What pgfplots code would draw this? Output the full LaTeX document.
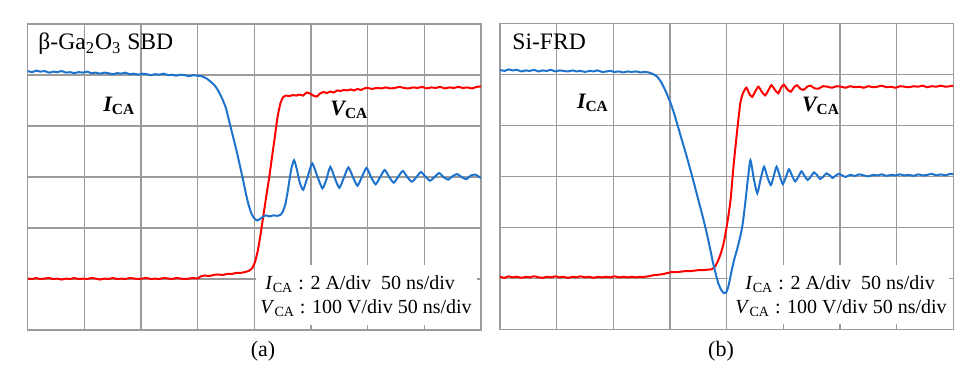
\documentclass[border=0pt]{standalone}
\usepackage{fontspec}
\setmainfont{Liberation Serif}
\usepackage{pgfplots}
\usepackage{pgfplotstable}
\pgfplotsset{compat=1.18}
\definecolor{gridc}{RGB}{155,155,155}
\definecolor{tblue}{RGB}{30,115,205}
\definecolor{tred}{RGB}{255,0,0}

\pgfplotstableread[row sep=\\]{x y\\
0.00 5.08\\ 0.08 5.06\\ 0.15 5.09\\ 0.22 5.07\\ 0.30 5.08\\ 0.38 5.05\\ 0.45 5.07\\ 0.52 5.06\\ 0.60 5.08\\ 0.68 5.05\\
0.75 5.06\\ 0.82 5.04\\ 0.90 5.06\\ 0.98 5.05\\ 1.05 5.07\\ 1.12 5.04\\ 1.20 5.05\\ 1.28 5.03\\ 1.35 5.05\\ 1.42 5.04\\
1.50 5.02\\ 1.58 5.04\\ 1.65 5.03\\ 1.72 5.05\\ 1.80 5.02\\ 1.88 5.03\\ 1.95 5.01\\ 2.02 5.03\\ 2.10 5.02\\ 2.18 5.00\\
2.25 5.02\\ 2.32 5.01\\ 2.40 5.03\\ 2.48 5.00\\ 2.55 5.01\\ 2.62 4.99\\ 2.70 5.01\\ 2.78 5.00\\ 2.85 4.98\\ 2.92 5.00\\
3.00 4.99\\ 3.07 4.98\\ 3.15 4.94\\ 3.22 4.88\\ 3.30 4.80\\ 3.37 4.68\\ 3.44 4.52\\ 3.50 4.35\\ 3.55 4.12\\ 3.60 3.90\\
3.65 3.68\\ 3.70 3.45\\ 3.75 3.20\\ 3.80 2.95\\ 3.85 2.68\\ 3.90 2.45\\ 3.95 2.28\\ 4.00 2.19\\ 4.05 2.15\\ 4.10 2.18\\
4.15 2.22\\ 4.20 2.25\\ 4.27 2.23\\ 4.34 2.25\\ 4.40 2.24\\ 4.46 2.26\\ 4.50 2.32\\ 4.55 2.48\\ 4.60 2.80\\ 4.65 3.15\\
4.70 3.33\\ 4.75 3.15\\ 4.80 2.90\\ 4.86 2.75\\ 4.93 2.97\\ 5.02 3.27\\ 5.10 3.05\\ 5.20 2.78\\ 5.27 2.95\\ 5.34 3.20\\
5.42 2.98\\ 5.50 2.79\\ 5.58 2.99\\ 5.66 3.19\\ 5.74 3.00\\ 5.82 2.83\\ 5.90 3.01\\ 5.98 3.18\\ 6.06 3.00\\ 6.14 2.86\\
6.22 3.00\\ 6.30 3.14\\ 6.38 3.00\\ 6.46 2.89\\ 6.54 3.01\\ 6.62 3.12\\ 6.70 3.00\\ 6.78 2.91\\ 6.86 3.00\\ 6.94 3.10\\
7.02 3.01\\ 7.10 2.93\\ 7.18 3.00\\ 7.26 3.08\\ 7.34 3.00\\ 7.42 2.95\\ 7.50 3.02\\ 7.58 3.06\\ 7.66 3.00\\ 7.74 2.96\\
7.82 3.03\\ 7.90 3.05\\ 8.00 2.98\\
}\IaTable

\pgfplotstableread[row sep=\\]{x y\\
0.00 1.01\\ 0.08 1.00\\ 0.15 1.02\\ 0.22 1.00\\ 0.30 1.01\\ 0.38 1.02\\ 0.45 1.00\\ 0.52 1.01\\ 0.60 0.99\\ 0.68 1.01\\
0.75 1.00\\ 0.82 1.02\\ 0.90 1.00\\ 0.98 1.01\\ 1.05 1.00\\ 1.12 1.02\\ 1.20 1.01\\ 1.28 0.99\\ 1.35 1.01\\ 1.42 1.00\\
1.50 1.02\\ 1.58 1.00\\ 1.65 1.01\\ 1.72 1.00\\ 1.80 1.02\\ 1.88 1.01\\ 1.95 1.00\\ 2.02 1.01\\ 2.10 1.02\\ 2.18 1.00\\
2.25 1.01\\ 2.32 1.00\\ 2.40 1.02\\ 2.48 1.01\\ 2.55 1.00\\ 2.62 1.02\\ 2.70 1.01\\ 2.78 1.00\\ 2.85 1.01\\ 2.92 1.02\\
3.00 1.01\\ 3.05 1.05\\ 3.12 1.07\\ 3.20 1.06\\ 3.28 1.08\\ 3.36 1.09\\ 3.44 1.08\\ 3.52 1.10\\ 3.60 1.10\\ 3.68 1.12\\
3.76 1.12\\ 3.84 1.14\\ 3.90 1.16\\ 3.96 1.21\\ 4.01 1.33\\ 4.06 1.55\\ 4.11 1.88\\ 4.16 2.25\\ 4.21 2.62\\ 4.26 2.98\\
4.31 3.38\\ 4.36 3.78\\ 4.41 4.18\\ 4.46 4.45\\ 4.51 4.57\\ 4.56 4.60\\ 4.62 4.59\\ 4.68 4.61\\ 4.74 4.60\\ 4.80 4.62\\
4.86 4.60\\ 4.92 4.66\\ 4.98 4.64\\ 5.04 4.60\\ 5.10 4.58\\ 5.16 4.64\\ 5.22 4.67\\ 5.28 4.65\\ 5.34 4.68\\ 5.40 4.66\\
5.46 4.70\\ 5.52 4.69\\ 5.58 4.71\\ 5.64 4.70\\ 5.70 4.72\\ 5.76 4.70\\ 5.82 4.73\\ 5.88 4.71\\ 5.94 4.74\\ 6.00 4.75\\
6.08 4.73\\ 6.16 4.75\\ 6.24 4.74\\ 6.32 4.76\\ 6.40 4.74\\ 6.48 4.75\\ 6.56 4.77\\ 6.64 4.75\\ 6.72 4.74\\ 6.80 4.76\\
6.88 4.75\\ 6.96 4.77\\ 7.04 4.74\\ 7.12 4.76\\ 7.20 4.75\\ 7.28 4.77\\ 7.36 4.74\\ 7.44 4.76\\ 7.52 4.75\\ 7.60 4.77\\
7.68 4.75\\ 7.76 4.76\\ 7.84 4.74\\ 7.92 4.77\\ 8.00 4.78\\
}\VaTable

\pgfplotstableread[row sep=\\]{x y\\
0.00 5.09\\ 0.08 5.07\\ 0.15 5.10\\ 0.22 5.08\\ 0.30 5.09\\ 0.38 5.06\\ 0.45 5.08\\ 0.52 5.07\\ 0.60 5.09\\ 0.68 5.06\\
0.75 5.08\\ 0.82 5.07\\ 0.90 5.09\\ 0.98 5.06\\ 1.05 5.08\\ 1.12 5.07\\ 1.20 5.06\\ 1.28 5.08\\ 1.35 5.06\\ 1.42 5.07\\
1.50 5.05\\ 1.58 5.07\\ 1.65 5.06\\ 1.72 5.08\\ 1.80 5.05\\ 1.88 5.06\\ 1.95 5.07\\ 2.02 5.05\\ 2.10 5.06\\ 2.18 5.04\\
2.25 5.06\\ 2.32 5.05\\ 2.40 5.06\\ 2.48 5.04\\ 2.55 5.05\\ 2.62 5.04\\ 2.70 5.01\\ 2.78 4.95\\ 2.86 4.82\\ 2.94 4.63\\
3.00 4.47\\ 3.06 4.28\\ 3.13 4.02\\ 3.20 3.75\\ 3.28 3.45\\ 3.35 3.17\\ 3.43 2.84\\ 3.50 2.54\\ 3.58 2.20\\ 3.65 1.88\\
3.71 1.57\\ 3.76 1.30\\ 3.81 1.08\\ 3.85 0.91\\ 3.90 0.78\\ 3.95 0.71\\ 3.99 0.72\\ 4.03 0.84\\ 4.06 1.00\\ 4.09 1.16\\
4.14 1.40\\ 4.18 1.55\\ 4.24 1.82\\ 4.28 2.05\\ 4.32 2.40\\ 4.35 2.70\\ 4.38 3.00\\ 4.42 3.32\\ 4.48 2.95\\ 4.54 2.67\\
4.60 2.95\\ 4.66 3.19\\ 4.72 2.98\\ 4.78 2.83\\ 4.83 3.00\\ 4.88 3.19\\ 4.94 3.00\\ 4.99 2.85\\ 5.05 3.00\\ 5.10 3.14\\
5.16 3.00\\ 5.21 2.90\\ 5.27 3.00\\ 5.32 3.10\\ 5.38 3.00\\ 5.43 2.93\\ 5.49 3.00\\ 5.54 3.08\\ 5.60 3.02\\ 5.65 2.95\\
5.71 3.00\\ 5.76 3.06\\ 5.82 3.02\\ 5.87 2.97\\ 5.93 3.02\\ 5.98 3.05\\ 6.04 3.02\\ 6.10 2.99\\ 6.18 3.03\\ 6.26 3.01\\
6.34 3.04\\ 6.42 3.02\\ 6.50 3.00\\ 6.58 3.03\\ 6.66 3.02\\ 6.74 3.04\\ 6.82 3.01\\ 6.90 3.03\\ 6.98 3.02\\ 7.06 3.04\\
7.14 3.02\\ 7.22 3.03\\ 7.30 3.01\\ 7.38 3.04\\ 7.46 3.02\\ 7.54 3.03\\ 7.62 3.05\\ 7.70 3.02\\ 7.78 3.04\\ 7.86 3.02\\
7.94 3.05\\ 8.00 3.04\\
}\IbTable

\pgfplotstableread[row sep=\\]{x y\\
0.00 1.03\\ 0.08 1.01\\ 0.15 1.04\\ 0.22 1.02\\ 0.30 1.03\\ 0.38 1.01\\ 0.45 1.03\\ 0.52 1.02\\ 0.60 1.04\\ 0.68 1.02\\
0.75 1.01\\ 0.82 1.03\\ 0.90 1.02\\ 0.98 1.04\\ 1.05 1.02\\ 1.12 1.03\\ 1.20 1.01\\ 1.28 1.03\\ 1.35 1.02\\ 1.42 1.04\\
1.50 1.02\\ 1.58 1.03\\ 1.65 1.01\\ 1.72 1.03\\ 1.80 1.02\\ 1.88 1.03\\ 1.95 1.02\\ 2.02 1.04\\ 2.10 1.02\\ 2.18 1.03\\
2.25 1.02\\ 2.32 1.03\\ 2.40 1.02\\ 2.48 1.03\\ 2.55 1.03\\ 2.62 1.04\\ 2.70 1.06\\ 2.78 1.07\\ 2.86 1.08\\ 2.94 1.10\\
3.02 1.12\\ 3.10 1.12\\ 3.18 1.13\\ 3.26 1.14\\ 3.34 1.14\\ 3.42 1.15\\ 3.50 1.16\\ 3.58 1.16\\ 3.66 1.17\\ 3.74 1.18\\
3.80 1.24\\ 3.85 1.35\\ 3.90 1.50\\ 3.94 1.66\\ 3.97 1.82\\ 4.02 2.15\\ 4.07 2.55\\ 4.12 3.19\\ 4.18 3.84\\ 4.24 4.43\\
4.29 4.64\\ 4.35 4.74\\ 4.40 4.62\\ 4.45 4.56\\ 4.50 4.66\\ 4.56 4.76\\ 4.62 4.66\\ 4.68 4.59\\ 4.74 4.70\\ 4.79 4.79\\
4.85 4.70\\ 4.91 4.63\\ 4.96 4.74\\ 5.01 4.80\\ 5.07 4.71\\ 5.13 4.66\\ 5.19 4.75\\ 5.24 4.79\\ 5.30 4.72\\ 5.36 4.70\\
5.42 4.76\\ 5.48 4.78\\ 5.55 4.73\\ 5.62 4.72\\ 5.70 4.77\\ 5.78 4.76\\ 5.86 4.74\\ 5.94 4.77\\ 6.02 4.76\\ 6.10 4.74\\
6.18 4.77\\ 6.26 4.75\\ 6.34 4.76\\ 6.42 4.74\\ 6.50 4.77\\ 6.58 4.75\\ 6.66 4.76\\ 6.74 4.78\\ 6.82 4.75\\ 6.90 4.76\\
6.98 4.74\\ 7.06 4.77\\ 7.14 4.76\\ 7.22 4.75\\ 7.30 4.77\\ 7.38 4.76\\ 7.46 4.78\\ 7.54 4.75\\ 7.62 4.77\\ 7.70 4.76\\
7.78 4.78\\ 7.86 4.76\\ 7.94 4.77\\ 8.00 4.78\\
}\VbTable

\pgfplotsset{
  scopeaxis/.style={
    scale only axis, width=226.65pt, height=152.9pt,
    xmin=0, xmax=8, ymin=0, ymax=6,
    xtick={0,1,...,8}, ytick={0,1,...,6},
    xticklabels={}, yticklabels={},
    major tick length=0pt,
    grid=major,
    grid style={draw=gridc, line width=0.7pt},
    axis line style={draw=gridc, line width=0.75pt},
    clip=true,
  },
  trace/.style={line width=1.0pt, smooth, tension=0.35, no markers},
}

\newcommand{\sub}[1]{\textsubscript{#1}}

\begin{document}
\begin{tikzpicture}
\useasboundingbox (0,0) rectangle (486pt,186pt);

% ---------- panel (a)
\begin{axis}[scopeaxis, at={(13.85pt,21pt)}, anchor=south west]
  \fill[white] (axis cs:4.03,0.1) rectangle (axis cs:7.93,1.27);
  \addplot[trace, draw=tred] table[x=x,y=y] {\VaTable};
  \addplot[trace, draw=tblue] table[x=x,y=y] {\IaTable};
\end{axis}

% ---------- panel (b)
\begin{axis}[scopeaxis, at={(250pt,21.35pt)}, anchor=south west]
  \fill[white] (axis cs:4.03,0.1) rectangle (axis cs:7.93,1.27);
  \addplot[trace, draw=tred] table[x=x,y=y] {\VbTable};
  \addplot[trace, draw=tblue] table[x=x,y=y] {\IbTable};
\end{axis}

% ---------- texts
\begin{scope}[every node/.style={inner sep=0pt, anchor=base west}]
\node at (19pt,161.3pt) {\fontsize{11.8}{13}\selectfont β-Ga\sub{2}O\sub{3} SBD};
\node at (256pt,161.3pt) {\fontsize{11.8}{13}\selectfont Si-FRD};

\node at (51.5pt,130.2pt) {\fontsize{11}{13}\selectfont\bfseries\itshape I\textsubscript{\upshape CA}};
\node at (165pt,128.5pt) {\fontsize{11}{13}\selectfont\bfseries\itshape V\textsubscript{\upshape CA}};
\node at (288.3pt,131.8pt) {\fontsize{11}{13}\selectfont\bfseries\itshape I\textsubscript{\upshape CA}};
\node at (400.8pt,130.2pt) {\fontsize{11}{13}\selectfont\bfseries\itshape V\textsubscript{\upshape CA}};

\node at (132.5pt,41.4pt) {\fontsize{10}{12}\selectfont \textit{I}\sub{CA} : 2 A/div\ \ 50 ns/div};
\node at (130pt,29.4pt) {\fontsize{10}{12}\selectfont \textit{V}\sub{CA} : 100 V/div 50 ns/div};
\node at (372.5pt,41.4pt) {\fontsize{10}{12}\selectfont \textit{I}\sub{CA} : 2 A/div\ \ 50 ns/div};
\node at (367.5pt,29.4pt) {\fontsize{10}{12}\selectfont \textit{V}\sub{CA} : 100 V/div 50 ns/div};
\end{scope}

\node[inner sep=0pt, anchor=base] at (131.5pt,8pt) {\fontsize{11}{13}\selectfont (a)};
\node[inner sep=0pt, anchor=base] at (360.5pt,8pt) {\fontsize{11}{13}\selectfont (b)};
\end{tikzpicture}
\end{document}
